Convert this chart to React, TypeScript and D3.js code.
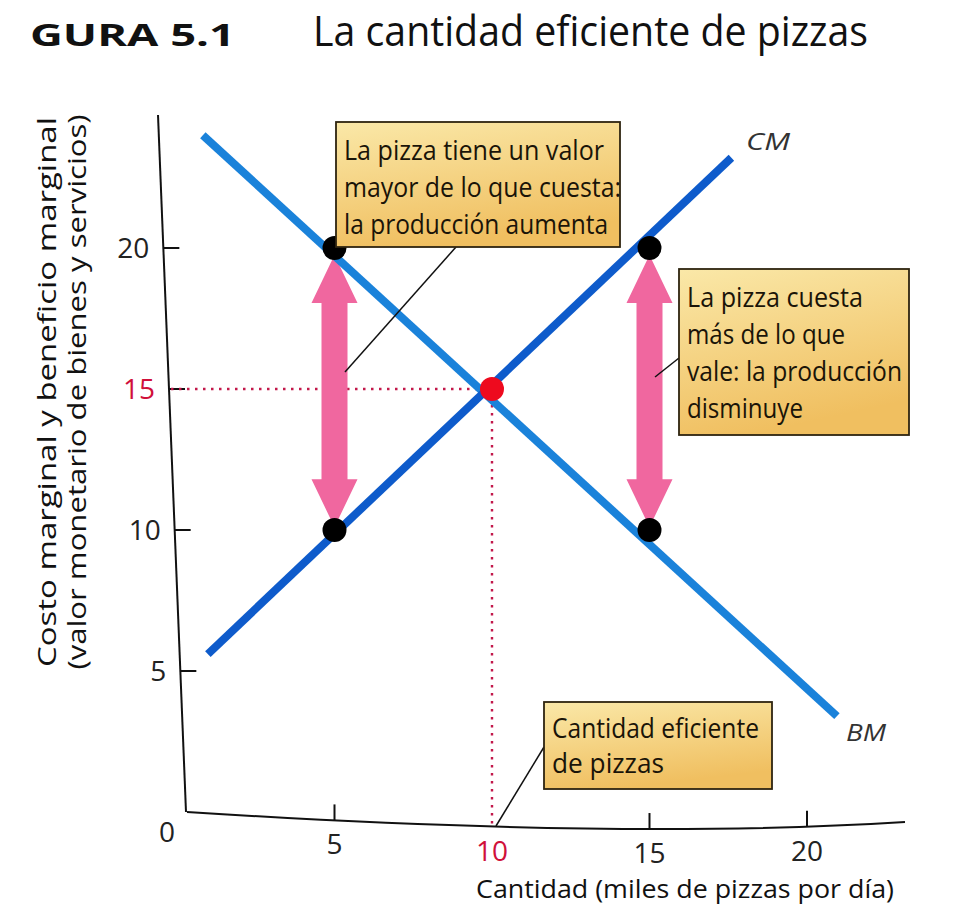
import React from "react";
import * as d3 from "d3";

const W = 975;
const H = 918;

const xTicks = [5, 10, 15, 20];
const yTicks = [5, 10, 15, 20];
const bmLine: [number, number][] = [[0.82, 24.0], [20.95, 3.4]];
const cmLine: [number, number][] = [[0.98, 5.6], [17.6, 23.2]];
const blackDots = [
  { x: 5, y: 20 },
  { x: 15, y: 20 },
  { x: 5, y: 10 },
  { x: 15, y: 10 },
];
const equilibrium = { x: 10, y: 15 };
const arrows = [
  { x: 5, top: 19.75, bottom: 10.1 },
  { x: 15, top: 19.75, bottom: 10.1 },
];
const box1Lines = ["La pizza tiene un valor", "mayor de lo que cuesta:", "la producción aumenta"];
const box1Widths = [260, 277, 264];
const box2Lines = ["La pizza cuesta", "más de lo que", "vale: la producción", "disminuye"];
const box2Widths = [176, 158, 215, 116];
const box3Lines = ["Cantidad eficiente", "de pizzas"];
const box3Widths = [207, 112];

const FONT = "'Open Sans', 'DejaVu Sans', sans-serif";

export default function App() {
  const x = d3.scaleLinear().domain([0, 20]).range([177, 807]);
  const y = d3.scaleLinear().domain([0, 20]).range([812, 248]);
  const line = d3
    .line<[number, number]>()
    .x((d) => x(d[0]))
    .y((d) => y(d[1]));

  // slightly slanted / bowed axes (as in the scanned figure)
  const yAxisX = (py: number) => 158 + ((py - 115) / 697) * 28;
  const P0 = [187, 812];
  const P1 = [620, 840];
  const P2 = [905, 822];
  const xAxisY = (px: number) => {
    let lo = 0;
    let hi = 1;
    for (let i = 0; i < 30; i++) {
      const t = (lo + hi) / 2;
      const bx = (1 - t) * (1 - t) * P0[0] + 2 * t * (1 - t) * P1[0] + t * t * P2[0];
      if (bx < px) lo = t;
      else hi = t;
    }
    const t = (lo + hi) / 2;
    return (1 - t) * (1 - t) * P0[1] + 2 * t * (1 - t) * P1[1] + t * t * P2[1];
  };

  const arrowPath = (a: { x: number; top: number; bottom: number }) => {
    const cx = x(a.x);
    const t = y(a.top);
    const b = y(a.bottom);
    const hw = 23;
    const sw = 13;
    const hl = 48;
    return [
      `M${cx},${t}`,
      `L${cx + hw},${t + hl}`,
      `L${cx + sw},${t + hl}`,
      `L${cx + sw},${b - hl}`,
      `L${cx + hw},${b - hl}`,
      `L${cx},${b}`,
      `L${cx - hw},${b - hl}`,
      `L${cx - sw},${b - hl}`,
      `L${cx - sw},${t + hl}`,
      `L${cx - hw},${t + hl}`,
      "Z",
    ].join(" ");
  };

  const box = (
    bx: number,
    by: number,
    bw: number,
    bh: number,
    lines: string[],
    widths: number[],
    lh: number,
    first: number,
    fs: number
  ) => (
    <g>
      <rect x={bx} y={by} width={bw} height={bh} fill="url(#boxGrad)" stroke="#2e2410" strokeWidth={1.8} />
      {lines.map((l, i) => (
        <text
          key={i}
          x={bx + 8}
          y={by + first + i * lh}
          fontSize={fs}
          fill="#1a1408"
          fontFamily={FONT}
          textLength={widths[i]}
          lengthAdjust="spacingAndGlyphs"
        >
          {l}
        </text>
      ))}
    </g>
  );

  return (
    <svg width={W} height={H} style={{ position: "absolute", left: 0, top: 0, background: "#fff" }}>
      <defs>
        <linearGradient id="boxGrad" x1="0" y1="0" x2="0.3" y2="1">
          <stop offset="0" stopColor="#fae8a8" />
          <stop offset="1" stopColor="#f0bf60" />
        </linearGradient>
      </defs>

      {/* title */}
      <text
        x={30}
        y={46}
        fontSize={31}
        fontWeight="bold"
        fontFamily={FONT}
        fill="#111"
        textLength={205}
        lengthAdjust="spacingAndGlyphs"
      >
        GURA 5.1
      </text>
      <text
        x={313}
        y={46}
        fontSize={42}
        fontFamily={FONT}
        fill="#111"
        textLength={555}
        lengthAdjust="spacingAndGlyphs"
      >
        La cantidad eficiente de pizzas
      </text>

      {/* axes */}
      <line x1={158} y1={115} x2={186} y2={812} stroke="#111" strokeWidth={2} />
      <path
        d={`M${P0[0]},${P0[1]} Q${P1[0]},${P1[1]} ${P2[0]},${P2[1]}`}
        stroke="#111"
        strokeWidth={2}
        fill="none"
      />
      {yTicks.map((t) => {
        const ax = yAxisX(y(t));
        return (
          <g key={"y" + t}>
            <line x1={ax} x2={ax + 16} y1={y(t)} y2={y(t)} stroke="#111" strokeWidth={2} />
            <text
              x={ax - 14}
              y={y(t) + 10}
              textAnchor="end"
              fontSize={28}
              fontFamily={FONT}
              fill={t === 15 ? "#d0103a" : "#222"}
            >
              {t}
            </text>
          </g>
        );
      })}
      <text x={167} y={842} textAnchor="middle" fontSize={28} fontFamily={FONT} fill="#222">
        0
      </text>
      {xTicks.map((t) => {
        const ay = xAxisY(x(t));
        return (
          <g key={"x" + t}>
            {t !== 10 && <line x1={x(t)} x2={x(t)} y1={ay} y2={ay - 16} stroke="#111" strokeWidth={2} />}
            <text
              x={x(t)}
              y={ay + 34}
              textAnchor="middle"
              fontSize={28}
              fontFamily={FONT}
              fill={t === 10 ? "#d0103a" : "#222"}
            >
              {t}
            </text>
          </g>
        );
      })}
      <text
        x={476}
        y={898}
        fontSize={26}
        fontFamily={FONT}
        fill="#111"
        textLength={418}
        lengthAdjust="spacingAndGlyphs"
      >
        Cantidad (miles de pizzas por día)
      </text>
      <text
        transform={`translate(56,392) rotate(-90)`}
        textAnchor="middle"
        fontSize={25}
        fontFamily={FONT}
        fill="#111"
        textLength={550}
        lengthAdjust="spacingAndGlyphs"
      >
        Costo marginal y beneficio marginal
      </text>
      <text
        transform={`translate(86,392) rotate(-90)`}
        textAnchor="middle"
        fontSize={25}
        fontFamily={FONT}
        fill="#111"
        textLength={555}
        lengthAdjust="spacingAndGlyphs"
      >
        (valor monetario de bienes y servicios)
      </text>

      {/* dotted guides */}
      <line
        x1={yAxisX(y(equilibrium.y)) + 2}
        x2={x(equilibrium.x)}
        y1={y(equilibrium.y)}
        y2={y(equilibrium.y)}
        stroke="#c2184a"
        strokeWidth={2.4}
        strokeDasharray="2.5 5.5"
      />
      <line
        x1={x(equilibrium.x)}
        x2={x(equilibrium.x)}
        y1={y(equilibrium.y)}
        y2={xAxisY(x(equilibrium.x))}
        stroke="#c2184a"
        strokeWidth={2.4}
        strokeDasharray="2.5 5.5"
      />

      {/* arrows */}
      {arrows.map((a, i) => (
        <path key={i} d={arrowPath(a)} fill="#f0679f" />
      ))}

      {/* curves */}
      <path d={line(bmLine) || ""} stroke="#1a82da" strokeWidth={8} fill="none" />
      <path d={line(cmLine) || ""} stroke="#0e5bcb" strokeWidth={8} fill="none" />
      <text
        x={746}
        y={150}
        fontSize={24}
        fontFamily={FONT}
        fontStyle="italic"
        fill="#333"
        textLength={44}
        lengthAdjust="spacingAndGlyphs"
      >
        CM
      </text>
      <text
        x={846}
        y={741}
        fontSize={24}
        fontFamily={FONT}
        fontStyle="italic"
        fill="#333"
        textLength={40}
        lengthAdjust="spacingAndGlyphs"
      >
        BM
      </text>

      {/* dots */}
      {blackDots.map((d, i) => (
        <circle key={i} cx={x(d.x)} cy={y(d.y)} r={12} fill="#000" />
      ))}
      <circle cx={x(equilibrium.x)} cy={y(equilibrium.y)} r={12} fill="#ee0a1e" />

      {/* leader lines */}
      <line x1={456} y1={247} x2={345} y2={372} stroke="#111" strokeWidth={1.5} />
      <line x1={679} y1={358} x2={655} y2={377} stroke="#111" strokeWidth={1.5} />
      <line x1={544} y1={747} x2={496} y2={826} stroke="#111" strokeWidth={1.5} />

      {/* boxes */}
      {box(336, 122, 284, 125, box1Lines, box1Widths, 37, 38, 27)}
      {box(679, 269, 230, 166, box2Lines, box2Widths, 37, 38, 27)}
      {box(544, 702, 228, 87, box3Lines, box3Widths, 35, 36, 27)}
    </svg>
  );
}
